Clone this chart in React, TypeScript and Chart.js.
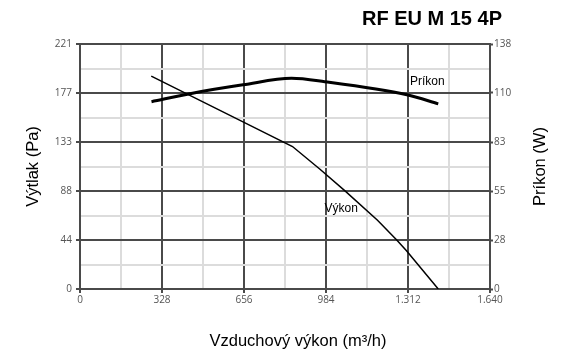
import React, { useEffect, useRef } from "react";
import { Chart, registerables } from "chart.js";

Chart.register(...registerables);

// Data
const vykonFlow = [285, 650, 850, 960, 1060, 1190, 1266, 1306, 1433];
const vykonPressure = [192, 151, 128.5, 108, 88.5, 62, 44.5, 34.5, 0];
const prikonFlow = [286, 450, 652, 846, 979, 1312, 1433];
const prikonPower = [105.5, 110.3, 115, 118.7, 116.8, 109.3, 104.3];

const xTickValues = [0, 164, 328, 492, 656, 820, 984, 1148, 1312, 1476, 1640];
const xTickLabels = ["0", "", "328", "", "656", "", "984", "", "1.312", "", "1.640"];
const yTickValues = [0, 22.1, 44.2, 66.3, 88.4, 110.5, 132.6, 154.7, 176.8, 198.9, 221];
const yTickLabels = ["0", "", "44", "", "88", "", "133", "", "177", "", "221"];
const y1TickValues = [0, 13.8, 27.6, 41.4, 55.2, 69, 82.8, 96.6, 110.4, 124.2, 138];
const y1TickLabels = ["0", "", "28", "", "55", "", "83", "", "110", "", "138"];

const chartTitle = "RF EU M 15 4P";
const xTitle = "Vzduchový výkon (m³/h)";
const yTitle = "Výtlak (Pa)";
const y1Title = "Príkon (W)";
const vykonLabel = "Výkon";
const prikonLabel = "Príkon";

const DARK = "#4a4a4a";
const LIGHT = "#dcdcdc";
const TICK_FONT = { family: "'Open Sans', sans-serif", size: 10 };

const textPlugin = {
  id: "texts",
  afterDraw(chart: any) {
    const ctx = chart.ctx;
    const xs = chart.scales.x;
    const ys = chart.scales.y;
    const y1s = chart.scales.y1;
    ctx.save();
    ctx.fillStyle = "#000";
    ctx.font = "bold 20px 'Liberation Sans', Arial, sans-serif";
    ctx.textAlign = "right";
    ctx.textBaseline = "alphabetic";
    ctx.fillText(chartTitle, 502, 25);

    ctx.font = "16.5px 'Liberation Sans', Arial, sans-serif";
    ctx.textAlign = "center";
    ctx.textBaseline = "middle";
    ctx.fillText(xTitle, 298, 341);

    const cy = (chart.chartArea.top + chart.chartArea.bottom) / 2;
    ctx.save();
    ctx.translate(33, cy);
    ctx.rotate(-Math.PI / 2);
    ctx.fillText(yTitle, 0, 0);
    ctx.restore();
    ctx.save();
    ctx.translate(540, cy);
    ctx.rotate(-Math.PI / 2);
    ctx.fillText(y1Title, 0, 0);
    ctx.restore();

    ctx.font = "12px 'Liberation Sans', Arial, sans-serif";
    ctx.textAlign = "left";
    ctx.fillText(prikonLabel, xs.getPixelForValue(1320), y1s.getPixelForValue(116.5));
    ctx.fillText(vykonLabel, xs.getPixelForValue(978), ys.getPixelForValue(72));
    ctx.restore();
  },
};

function setTicks(values: number[]) {
  return (scale: any) => {
    scale.ticks = values.map((v) => ({ value: v }));
  };
}

export default function App() {
  const ref = useRef<HTMLCanvasElement | null>(null);
  useEffect(() => {
    document.body.style.margin = "0";
    if (!ref.current) return;
    const chart = new Chart(ref.current, {
      type: "line",
      data: {
        datasets: [
          {
            label: prikonLabel,
            data: prikonFlow.map((x, i) => ({ x, y: prikonPower[i] })),
            yAxisID: "y1",
            borderColor: "#000",
            borderWidth: 3,
            pointRadius: 0,
            cubicInterpolationMode: "monotone",
            fill: false,
          },
          {
            label: vykonLabel,
            data: vykonFlow.map((x, i) => ({ x, y: vykonPressure[i] })),
            yAxisID: "y",
            borderColor: "#000",
            borderWidth: 1.5,
            pointRadius: 0,
            tension: 0,
            fill: false,
          },
        ],
      },
      options: {
        animation: false,
        responsive: false,
        maintainAspectRatio: false,
        layout: { padding: { top: 44, left: 0, right: 0, bottom: 0 } },
        plugins: { legend: { display: false }, tooltip: { enabled: false }, title: { display: false } },
        scales: {
          x: {
            type: "linear",
            position: "bottom",
            min: 0,
            max: 1640,
            afterBuildTicks: setTicks(xTickValues),
            afterFit: (s: any) => {
              s.height = 70;
            },
            ticks: {
              autoSkip: false,
              maxRotation: 0,
              padding: 1,
              color: "#555",
              font: TICK_FONT,
              callback: (_v: any, i: number) => xTickLabels[i],
            },
            grid: {
              color: (c: any) => (c.index % 2 === 0 ? DARK : LIGHT),
              lineWidth: 2,
              tickLength: 4,
              tickColor: (c: any) => (c.index % 2 === 0 ? DARK : "rgba(0,0,0,0)"),
              tickWidth: 2,
            },
            border: { display: true, color: DARK, width: 2 },
          },
          y: {
            type: "linear",
            position: "left",
            min: 0,
            max: 221,
            afterBuildTicks: setTicks(yTickValues),
            afterFit: (s: any) => {
              s.width = 80;
            },
            ticks: {
              autoSkip: false,
              padding: 4,
              color: "#555",
              font: TICK_FONT,
              callback: (_v: any, i: number) => yTickLabels[i],
            },
            grid: {
              color: (c: any) => (c.index % 2 === 0 ? DARK : LIGHT),
              lineWidth: 2,
              tickLength: 4,
              tickColor: (c: any) => (c.index % 2 === 0 ? DARK : "rgba(0,0,0,0)"),
              tickWidth: 2,
            },
            border: { display: true, color: DARK, width: 2 },
          },
          y1: {
            type: "linear",
            position: "right",
            min: 0,
            max: 138,
            afterBuildTicks: setTicks(y1TickValues),
            afterFit: (s: any) => {
              s.width = 82;
            },
            ticks: {
              autoSkip: false,
              padding: 1,
              color: "#555",
              font: TICK_FONT,
              callback: (_v: any, i: number) => y1TickLabels[i],
            },
            grid: {
              drawOnChartArea: false,
              tickLength: 3,
              tickColor: (c: any) => (c.index % 2 === 0 ? DARK : "rgba(0,0,0,0)"),
              tickWidth: 2,
            },
            border: { display: true, color: DARK, width: 2 },
          },
        },
      },
      plugins: [textPlugin],
    } as any);
    return () => chart.destroy();
  }, []);
  return <canvas ref={ref} width={572} height={359} style={{ display: "block", width: 572, height: 359 }} />;
}
